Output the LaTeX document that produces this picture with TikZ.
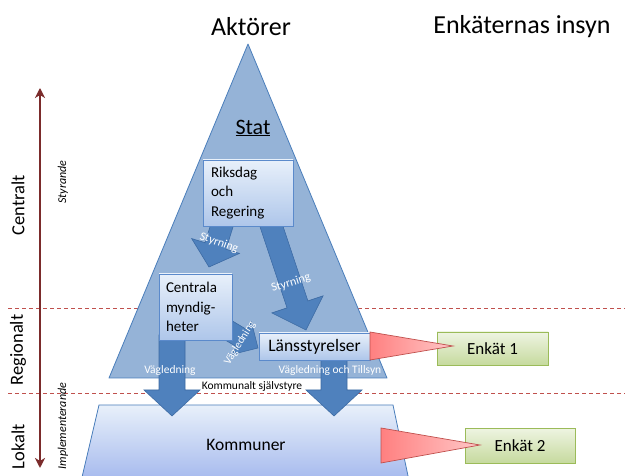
\documentclass[tikz,border=0pt]{standalone}
\usepackage{fontspec}
\setmainfont{Carlito}
\usetikzlibrary{calc,arrows.meta}
\definecolor{tri}{HTML}{95B3D7}
\definecolor{triedge}{HTML}{4A7EBB}
\definecolor{arr}{HTML}{4F81BD}
\definecolor{arredge}{HTML}{3C6AA3}
\definecolor{boxtop}{HTML}{E8F0FA}
\definecolor{boxbot}{HTML}{AEC6EA}
\definecolor{boxedge}{HTML}{5B8ACB}
\definecolor{redline}{HTML}{C0504D}
\definecolor{axiscol}{HTML}{7B2B2B}
\definecolor{greentop}{HTML}{EEF4E2}
\definecolor{greenbot}{HTML}{C6DA9E}
\definecolor{greenedge}{HTML}{9BBB59}
\definecolor{redtria}{HTML}{FF8080}
\definecolor{redtrib}{HTML}{FFC8C8}
\definecolor{rededge}{HTML}{C0504D}
\newcommand\fs[1]{\fontsize{#1}{#1}\selectfont}
\newcommand\blockarr[5]{%
  \coordinate (bah) at ($(#2)!#5!(#1)$);
  \path[blockarrow] ($(#1)!#3!90:(#2)$) -- ($(bah)!#3!90:(#2)$) -- ($(bah)!#4!90:(#2)$) -- (#2)
    -- ($(bah)!#4!-90:(#2)$) -- ($(bah)!#3!-90:(#2)$) -- ($(#1)!#3!-90:(#2)$) -- cycle;
}
\tikzset{
  blockarrow/.style={fill=arr, draw=arredge, line width=0.6pt, line join=miter},
  bluebox/.style={draw=boxedge, line width=0.7pt, top color=boxtop, bottom color=boxbot, inner sep=0pt},
  greenbox/.style={draw=greenedge, line width=0.7pt, top color=greentop, bottom color=greenbot, inner sep=0pt},
  redcall/.style={draw=rededge, line width=0.7pt, left color=redtria, right color=redtrib},
  levelline/.style={draw=redline, line width=0.8pt, dash pattern=on 4pt off 3pt},
  wlabel/.style={text=white, inner sep=0pt},
  lvl/.style={rotate=90, inner sep=0pt, font=\fs{18.5}},
  side/.style={rotate=90, inner sep=0pt, font=\fs{12}\itshape},
}
\begin{document}
\begin{tikzpicture}[x=1pt,y=-1pt]
\path[use as bounding box] (0,0) rectangle (625,476);
\clip (0,0) rectangle (625,476);
\fill[white] (0,0) rectangle (625,476);

% level lines
\coordinate (l1a) at (8,308); \coordinate (l1b) at (625,308);
\coordinate (l2a) at (8,393); \coordinate (l2b) at (625,393);
\draw[levelline] (l1a) -- (l1b);
\draw[levelline] (l2a) -- (l2b);

% triangle
\coordinate (apex) at (248,44);
\coordinate (bl) at (109,378);
\coordinate (br) at (387,378);
\draw[fill=tri, draw=triedge, line width=0.8pt, line join=round] (apex) -- (br) -- (bl) -- cycle;

% Kommuner trapezoid
\coordinate (k1) at (99,405); \coordinate (k2) at (393,405);
\coordinate (k3) at (411,490); \coordinate (k4) at (79,490);
\draw[draw=triedge, line width=0.8pt, top color=boxtop, bottom color=boxbot!90!blue] (k1) -- (k2) -- (k3) -- (k4) -- cycle;
\node[font=\fs{17.5}] (kommuner) at (246,445) {Kommuner};

% block arrows
\coordinate (a1s) at (223,222); \coordinate (a1t) at (209,267);
\coordinate (a2s) at (270,222); \coordinate (a2t) at (306,330);
\coordinate (a3s) at (228,330); \coordinate (a3t) at (258,348);
\coordinate (a4s) at (172,335); \coordinate (a4t) at (172,416);
\coordinate (a5s) at (334,355); \coordinate (a5t) at (334,416);
\blockarr{a1s}{a1t}{11pt}{25pt}{22pt}
\blockarr{a2s}{a2t}{11pt}{27pt}{27pt}
\blockarr{a3s}{a3t}{10pt}{19pt}{19pt}
\blockarr{a4s}{a4t}{13pt}{28pt}{26pt}
\blockarr{a5s}{a5t}{13pt}{28pt}{26pt}

% boxes
\node[bluebox, minimum width=90pt, minimum height=66pt, text width=74pt, align=left, font=\fontsize{15}{19.5}\selectfont] (riks) at (248,193) {Riksdag\\och\\Regering};
\node[bluebox, minimum width=73pt, minimum height=66pt, text width=59pt, align=left, font=\fontsize{15}{19.5}\selectfont] (centrala) at (195.5,307) {Centrala\\myndig-\\heter};
\node[bluebox, minimum width=111pt, minimum height=27pt, font=\fs{17.5}] (lans) at (314.5,346.5) {Länsstyrelser};

% arrow labels
\node[wlabel, rotate=-20, font=\fs{12}] (s1) at (219,243) {Styrning};
\node[wlabel, rotate=17, font=\fs{12}] (s2) at (291,283) {Styrning};
\node[wlabel, rotate=58, font=\fs{11}] (v1) at (240,343) {Vägledning};
\node[wlabel, font=\fs{11.5}] (v2) at (170,370) {Vägledning};
\node[wlabel, font=\fs{11.5}] (v3) at (330,370) {Vägledning och Tillsyn};
\node[inner sep=0pt, font=\fs{11.5}] (ks) at (252,386) {Kommunalt självstyre};

% Stat
\node[font=\fs{22}] (stat) at (253,128) {\underline{Stat}};

% Enkät boxes and callouts
\node[greenbox, minimum width=111pt, minimum height=33pt, font=\fs{17}] (e1) at (492.5,348.5) {Enkät 1};
\node[greenbox, minimum width=110pt, minimum height=35pt, font=\fs{17}] (e2) at (520,445.5) {Enkät 2};
\coordinate (r1a) at (370,332); \coordinate (r1b) at (370,360); \coordinate (r1t) at (453,346);
\coordinate (r2a) at (381,428); \coordinate (r2b) at (381,463); \coordinate (r2t) at (480,445);
\draw[redcall] (r1a) -- (r1t) -- (r1b) -- cycle;
\draw[redcall] (r2a) -- (r2t) -- (r2b) -- cycle;

% titles
\node[font=\fs{26}] (akt) at (251,27) {Aktörer};
\node[font=\fs{26}] (ins) at (522,27) {Enkäternas insyn};

% left axis
\coordinate (axtop) at (40,88); \coordinate (axbot) at (40,468);
\draw[axiscol, line width=2.5pt, {Stealth[length=10pt,width=10pt,inset=3pt]}-{Stealth[length=10pt,width=10pt,inset=3pt]}] (axtop) -- (axbot);
\node[lvl] (cent) at (18,205) {Centralt};
\node[lvl] (reg) at (18,350) {Regionalt};
\node[lvl] (lok) at (18,447) {Lokalt};
\node[side] (styr) at (63,182) {Styrande};
\node[side] (impl) at (63,426) {Implementerande};
\end{tikzpicture}
\end{document}
